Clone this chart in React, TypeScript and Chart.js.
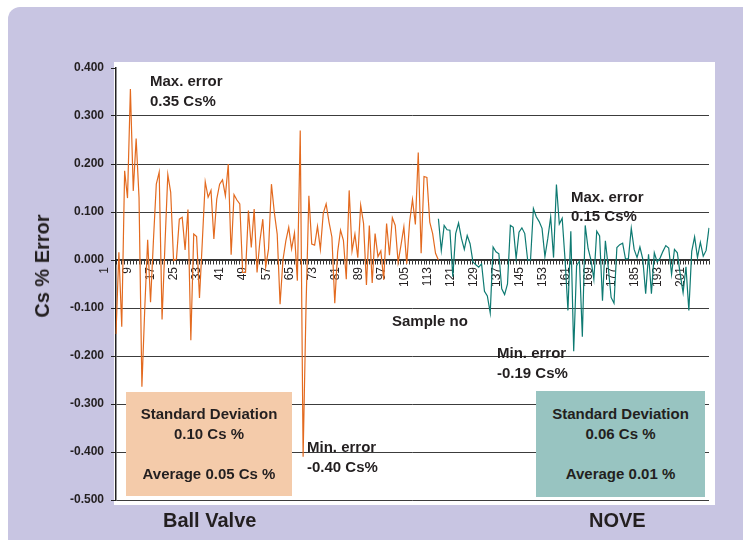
import React, { useEffect, useRef } from "react";
import { Chart, registerables } from "chart.js";

Chart.register(...registerables);

// Ball Valve sample errors (samples 1..113)
const ballValve: number[] = [
  -0.154, 0.016, -0.139, 0.186, 0.129, 0.356, 0.144, 0.253, 0.13, -0.264,
  -0.1, 0.042, -0.088, 0.04, 0.158, 0.183, -0.124, 0.03, 0.178, 0.141,
  -0.001, 0.002, 0.085, 0.089, 0.021, 0.105, -0.167, 0.054, 0.049, -0.079,
  0.04, 0.163, 0.131, 0.145, 0.044, 0.127, 0.158, 0.167, 0.134, 0.2,
  0.011, 0.136, 0.125, 0.117, -0.026, -0.026, 0.103, 0.026, 0.106, -0.026,
  0.04, 0.085, -0.015, 0.023, 0.158, 0.099, 0.054, -0.092, 0.0, 0.04,
  0.068, 0.023, 0.056, -0.043, 0.27, -0.41, -0.1, 0.134, 0.033, 0.031,
  0.07, 0.022, 0.097, 0.117, 0.079, 0.048, -0.09, 0.017, 0.062, 0.041,
  -0.04, 0.145, 0.019, 0.054, 0.005, 0.114, 0.076, -0.052, 0.072, -0.048,
  0.055, 0.007, 0.019, -0.041, 0.076, 0.01, 0.088, 0.072, -0.005, 0.031,
  0.069, -0.008, 0.079, 0.126, 0.074, 0.224, 0.014, 0.174, 0.172, 0.079,
  0.055, 0.014, 0.0,
];

// NOVE sample errors (samples 113..207)
const nove: number[] = [
  0.086, 0.02, 0.072, 0.063, 0.062, -0.035, 0.055, 0.077, 0.045, 0.022,
  0.051, 0.034, -0.004, -0.01, -0.015, -0.008, -0.065, -0.075, -0.11, 0.027,
  0.017, 0.013, -0.06, -0.072, -0.05, 0.072, 0.068, 0.003, 0.058, 0.067,
  0.055, 0.0, 0.0, 0.107, 0.09, 0.08, 0.066, 0.007, 0.045, 0.09,
  0.005, 0.157, 0.075, 0.087, 0.0, -0.105, 0.06, -0.19, -0.012, -0.002,
  -0.16, 0.072, 0.024, 0.0, -0.04, 0.06, 0.05, -0.085, 0.04, -0.015,
  -0.078, -0.09, 0.026, 0.032, 0.035, 0.002, 0.003, 0.066, 0.022, 0.005,
  0.027, 0.002, -0.07, 0.012, -0.07, 0.015, -0.004, 0.004, 0.018, 0.03,
  0.025, -0.03, 0.022, 0.015, -0.03, -0.068, -0.014, -0.105, 0.018, 0.048,
  0.005, 0.037, 0.008, 0.02, 0.067,
];

// Sample numbers (categories)
const sampleCount = ballValve.length + nove.length - 1;
const categories: string[] = Array.from({ length: sampleCount }, (_, i) => String(i + 1));
const labelEvery = 8;

const yMin = -0.5;
const yMax = 0.4;
const yStep = 0.1;

const FONT = '"Liberation Sans", Arial, Helvetica, sans-serif';
const TEXT = "#231F20";

const annoStyle: React.CSSProperties = {
  position: "absolute",
  font: `bold 15px ${FONT}`,
  lineHeight: "20px",
  color: TEXT,
  whiteSpace: "nowrap",
};

export default function App() {
  const ref = useRef<HTMLCanvasElement>(null);

  useEffect(() => {
    if (!ref.current) return;
    const orangeData = [...ballValve, ...Array(nove.length - 1).fill(null)];
    const tealData = [...Array(ballValve.length - 1).fill(null), ...nove];
    const chart = new Chart(ref.current, {
      type: "line",
      data: {
        labels: categories,
        datasets: [
          {
            label: "Ball Valve",
            data: orangeData,
            borderColor: "#E36A1F",
            borderWidth: 1.2,
            pointRadius: 0,
            tension: 0,
            spanGaps: false,
          },
          {
            label: "NOVE",
            data: tealData,
            borderColor: "#0E7A72",
            borderWidth: 1.2,
            pointRadius: 0,
            tension: 0,
            spanGaps: false,
          },
        ],
      },
      options: {
        responsive: false,
        animation: false,
        events: [],
        layout: { padding: { left: 0, top: 68, right: 34, bottom: 40 } },
        plugins: {
          legend: { display: false },
          tooltip: { enabled: false },
          title: { display: false },
        },
        scales: {
          x: {
            type: "category",
            position: { y: 0 } as any,
            offset: false,
            grid: {
              drawOnChartArea: false,
              drawTicks: true,
              tickLength: 4,
              color: "#333",
              lineWidth: 1,
            },
            border: { display: true, color: "#333", width: 1.5 },
            ticks: {
              autoSkip: false,
              maxRotation: 90,
              minRotation: 90,
              padding: 3,
              labelOffset: -11,
              color: TEXT,
              font: { family: FONT, size: 12 },
              callback: (_v: any, i: number) => (i % labelEvery === 0 ? categories[i] : ""),
            },
          },
          y: {
            min: yMin,
            max: yMax,
            afterFit: (s: any) => {
              s.width = 116;
            },
            grid: {
              drawTicks: true,
              tickLength: 5,
              tickColor: "#222",
              color: (ctx: any) =>
                ctx.tick && ctx.tick.value > yMax - 1e-6 ? "rgba(0,0,0,0)" : "#3c3c3c",
              lineWidth: 1,
            },
            border: { display: true, color: "#222", width: 1.5 },
            ticks: {
              stepSize: yStep,
              padding: 7,
              color: TEXT,
              font: { family: FONT, size: 12, weight: "bold" },
              callback: (v: any) => Number(v).toFixed(3),
            },
          },
        },
      },
    });
    return () => chart.destroy();
  }, []);

  return (
    <div
      style={{
        position: "fixed",
        left: 0,
        top: 0,
        width: 743,
        height: 540,
        background: "#fff",
        overflow: "hidden",
        fontFamily: FONT,
      }}
    >
      <div
        style={{
          position: "absolute",
          left: 8,
          top: 7,
          width: 745,
          height: 545,
          background: "#C8C5E2",
          borderTopLeftRadius: 12,
        }}
      />
      <div
        style={{
          position: "absolute",
          left: 114,
          top: 62,
          width: 601,
          height: 443,
          background: "#fff",
        }}
      />
      <canvas
        ref={ref}
        width={743}
        height={540}
        style={{ position: "absolute", left: 0, top: 0, width: 743, height: 540 }}
      />

      {/* Y axis title */}
      <div
        style={{
          position: "absolute",
          left: 42,
          top: 266,
          transform: "translate(-50%, -50%) rotate(-90deg)",
          font: `bold 20px ${FONT}`,
          lineHeight: "24px",
          color: TEXT,
          whiteSpace: "nowrap",
        }}
      >
        Cs % Error
      </div>

      <div style={{ ...annoStyle, left: 150, top: 71 }}>
        Max. error
        <br />
        0.35 Cs%
      </div>
      <div style={{ ...annoStyle, left: 571, top: 187, lineHeight: "19px" }}>
        Max. error
        <br />
        0.15 Cs%
      </div>
      <div style={{ ...annoStyle, left: 497, top: 343 }}>
        Min. error
        <br />
        -0.19 Cs%
      </div>
      <div style={{ ...annoStyle, left: 307, top: 437 }}>
        Min. error
        <br />
        -0.40 Cs%
      </div>
      <div style={{ ...annoStyle, left: 392, top: 311 }}>Sample no</div>

      {/* Ball Valve stats box */}
      <div
        style={{
          position: "absolute",
          left: 126,
          top: 392,
          width: 166,
          height: 104,
          background: "#F4CBAA",
        }}
      >
        <div style={{ ...annoStyle, left: 0, right: 0, top: 13, textAlign: "center", lineHeight: "18px" }}>
          Standard Deviation
        </div>
        <div style={{ ...annoStyle, left: 0, right: 0, top: 33, textAlign: "center", lineHeight: "18px" }}>
          0.10 Cs %
        </div>
        <div style={{ ...annoStyle, left: 0, right: 0, top: 73, textAlign: "center", lineHeight: "18px" }}>
          Average 0.05 Cs %
        </div>
      </div>

      {/* NOVE stats box */}
      <div
        style={{
          position: "absolute",
          left: 536,
          top: 391,
          width: 169,
          height: 106,
          background: "#98C4C1",
        }}
      >
        <div style={{ ...annoStyle, left: 0, right: 0, top: 14, textAlign: "center", lineHeight: "18px" }}>
          Standard Deviation
        </div>
        <div style={{ ...annoStyle, left: 0, right: 0, top: 34, textAlign: "center", lineHeight: "18px" }}>
          0.06 Cs %
        </div>
        <div style={{ ...annoStyle, left: 0, right: 0, top: 74, textAlign: "center", lineHeight: "18px" }}>
          Average 0.01 %
        </div>
      </div>

      <div
        style={{
          position: "absolute",
          left: 163,
          top: 508,
          font: `bold 20px ${FONT}`,
          lineHeight: "24px",
          color: TEXT,
          whiteSpace: "nowrap",
        }}
      >
        Ball Valve
      </div>
      <div
        style={{
          position: "absolute",
          left: 589,
          top: 508,
          font: `bold 20px ${FONT}`,
          lineHeight: "24px",
          color: TEXT,
          whiteSpace: "nowrap",
        }}
      >
        NOVE
      </div>
    </div>
  );
}
